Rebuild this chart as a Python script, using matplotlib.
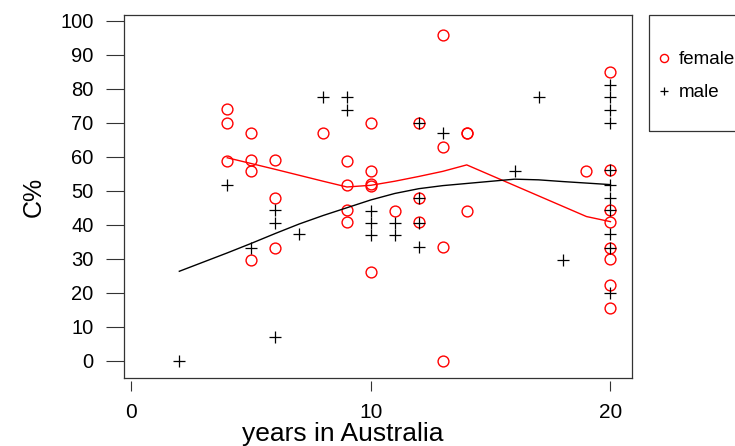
import matplotlib
matplotlib.use("Agg")
import matplotlib.pyplot as plt
from matplotlib.patches import Rectangle

plt.rcParams['font.family'] = ['Liberation Sans', 'DejaVu Sans']

# female points (years in Australia, C%)
female_x = [4, 4, 4, 5, 5, 5, 5, 6, 6, 6, 8, 9, 9, 9, 9,
            10, 10, 10, 10, 10, 11, 12, 12, 12, 13, 13, 13, 13,
            14, 14, 14, 19, 20, 20, 20, 20, 20, 20, 20, 20]
female_y = [74.0, 69.8, 58.8, 67.0, 58.9, 55.8, 29.7, 58.9, 47.8, 33.1, 67.0, 58.7, 51.7, 44.2, 40.7,
            69.9, 55.8, 52.0, 51.3, 26.2, 44.1, 69.9, 47.8, 40.7, 95.9, 62.8, 33.3, 0.0,
            66.9, 66.9, 44.1, 55.9, 84.8, 56.0, 44.2, 40.8, 33.1, 29.9, 22.3, 15.4]

# male points
male_x = [2, 4, 5, 6, 6, 6, 7, 8, 9, 9, 10, 10, 10, 11, 11,
          12, 12, 12, 12, 13, 16, 17, 18,
          20, 20, 20, 20, 20, 20, 20, 20, 20, 20, 20]
male_y = [0.0, 51.6, 33.1, 44.2, 40.6, 7.1, 37.2, 77.7, 77.7, 73.7, 44.1, 40.6, 37.0, 40.6, 37.0,
          69.9, 47.8, 40.6, 33.3, 66.9, 55.8, 77.7, 29.7,
          81.1, 77.7, 73.7, 69.9, 56.0, 51.8, 48.0, 44.2, 37.3, 33.1, 19.8]

# lowess smooths
female_sx = [4, 5, 6, 8, 9, 10, 11, 12, 13, 14, 19, 20]
female_sy = [59.7, 58.0, 56.3, 52.8, 51.1, 51.6, 52.8, 54.2, 55.7, 57.6, 42.4, 40.9]
male_sx = [2, 4, 5, 6, 7, 8, 9, 10, 11, 12, 13, 16, 17, 18, 20]
male_sy = [26.3, 31.7, 34.5, 37.4, 40.2, 42.7, 45.0, 47.3, 49.2, 50.6, 51.5, 53.4, 53.2, 52.7, 51.8]

W, H = 735, 446
fig = plt.figure(figsize=(W / 100, H / 100), dpi=100)
ax = fig.add_axes([124 / W, 1 - 378 / H, 508 / W, 363 / H])

ax.plot(female_x, female_y, 'o', ls='none', mfc='none', mec='red', ms=7.8, mew=1.0, label='female')
ax.plot(male_x, male_y, '+', ls='none', color='black', ms=8, mew=0.9, label='male')
ax.plot(female_sx, female_sy, color='red', lw=1.0)
ax.plot(male_sx, male_sy, color='black', lw=1.0)

ax.set_xlim(-0.31, 20.9)
ax.set_ylim(-5.1, 101.7)
for s in ax.spines.values():
    s.set_color('#333333')
    s.set_linewidth(0.9)

ax.set_yticks(range(0, 101, 10))
ax.tick_params(axis='y', length=13, width=0.8, pad=9, labelsize=14.5, color='#333333')
ax.tick_params(axis='x', bottom=False, labelbottom=False)

# detached x axis below the box
sec = ax.secondary_xaxis(-3 / 363)
sec.set_xticks([0, 10, 20])
sec.tick_params(length=7.5, width=0.8, pad=8, labelsize=15, color='#333333')
for s in sec.spines.values():
    s.set_visible(False)

ax.set_ylabel('C%', fontsize=18)
ax.yaxis.set_label_coords(-0.155, 0.5)
fig.text(343 / W, 1 - 434 / H, 'years in Australia', fontsize=19, ha='center', va='center')

# legend outside on the right
ax.legend(loc='upper left', bbox_to_anchor=(656 / W, 1 - 51 / H), bbox_transform=fig.transFigure,
          frameon=False, borderpad=0, borderaxespad=0, fontsize=13.5, markerscale=0.75,
          handlelength=0.8, handletextpad=0.4, labelspacing=0.85, numpoints=1)
fig.add_artist(Rectangle((649 / W, 1 - 131 / H), 100 / W, 116 / H, transform=fig.transFigure,
                         fill=False, lw=0.9, edgecolor='#333333', clip_on=False))

fig.savefig('out.png', dpi=100)
